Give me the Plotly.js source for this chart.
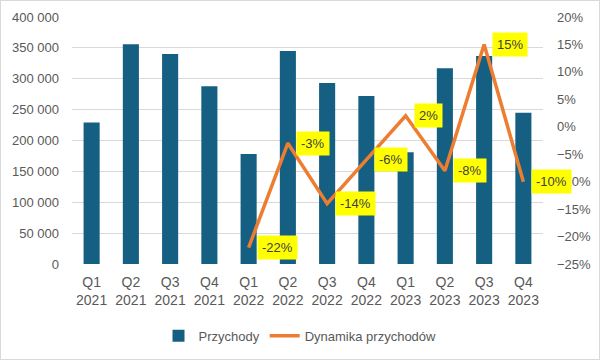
<!DOCTYPE html>
<html><head><meta charset="utf-8">
<script src="https://cdn.plot.ly/plotly-3.0.1.min.js"></script>
<style>body{margin:0;background:#fff}#c{width:598px;height:358px;border:1px solid #d9d9d9}</style>
</head><body><div id="c"></div>
<script>
const categories = ["Q1<br>2021","Q2<br>2021","Q3<br>2021","Q4<br>2021","Q1<br>2022","Q2<br>2022","Q3<br>2022","Q4<br>2022","Q1<br>2023","Q2<br>2023","Q3<br>2023","Q4<br>2023"];
const revenue = [229000,356000,340000,288000,178000,345000,293000,272000,181000,317000,337000,245000];
const growthCats = categories.slice(4);
const growth = [-0.22,-0.03,-0.14,-0.06,0.02,-0.08,0.15,-0.10];
const growthLabels = ["-22%","-3%","-14%","-6%","2%","-8%","15%","-10%"];

const font = {family:"Liberation Sans, Arial, sans-serif", size:13, color:"#595959"};
const traces = [
  {type:"bar", name:"Przychody", x:categories, y:revenue, marker:{color:"#156082"}, yaxis:"y"},
  {type:"scatter", mode:"lines", name:"Dynamika przychodów", x:growthCats, y:growth, yaxis:"y2",
   line:{color:"#ED7D31", width:3.5}}
];
const annotations = growthCats.map((c,i)=>({
  x:c, y:growth[i], xref:"x", yref:"y2", text:growthLabels[i], showarrow:false,
  xanchor:"left", yanchor:"middle", xshift:8, bgcolor:"#FFFF00", borderpad:4,
  font:{family:font.family, size:13, color:"#404040"}
}));
const layout = {
  width:598, height:358, font:font, separators:", ",
  margin:{l:71, r:56, t:16, b:95, autoexpand:false},
  paper_bgcolor:"#fff", plot_bgcolor:"#fff",
  bargap:0.59, showlegend:true,
  legend:{orientation:"h", x:0.5, xanchor:"center", xref:"container", yref:"container", y:0.065, yanchor:"middle", font:font},
  xaxis:{type:"category", range:[-0.5, categories.length-0.5], tickfont:{family:font.family,size:14,color:"#595959"}, showgrid:false, showline:false, ticks:"", tickangle:0, ticklabelstandoff:8, automargin:false},
  yaxis:{range:[0,400000], dtick:50000, tickformat:",d", gridcolor:"#d9d9d9", zeroline:false, tickfont:font, ticks:"", showline:false, ticklabelstandoff:12, automargin:false},
  yaxis2:{overlaying:"y", side:"right", range:[-0.25,0.20], dtick:0.05, tickformat:".0%", showgrid:false, zeroline:false, tickfont:font, ticks:"", showline:false, ticklabelstandoff:13, automargin:false},
  annotations:annotations
};
Plotly.newPlot("c", traces, layout, {displayModeBar:false, staticPlot:true});
</script></body></html>
